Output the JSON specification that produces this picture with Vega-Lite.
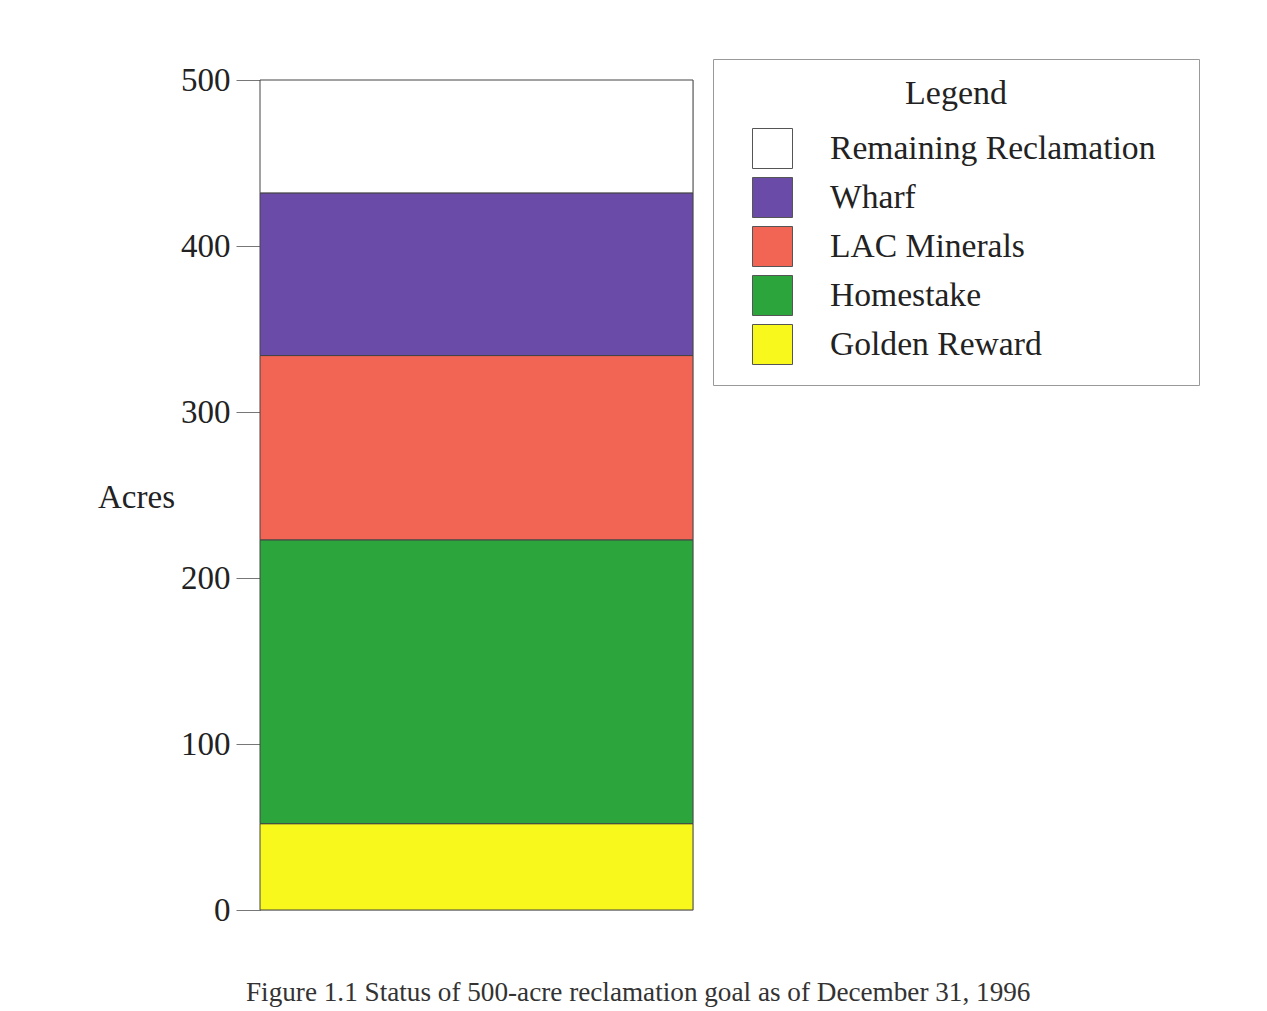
{
  "$schema": "https://vega.github.io/schema/vega-lite/v6.json",
  "width": 433,
  "height": 830,
  "autosize": "none",
  "padding": {"left": 260, "top": 80, "right": 574, "bottom": 101},
  "background": "white",
  "data": {"values": [
    {"source": "Golden Reward", "acres": 52, "rank": 1},
    {"source": "Homestake", "acres": 171, "rank": 2},
    {"source": "LAC Minerals", "acres": 111, "rank": 3},
    {"source": "Wharf", "acres": 98, "rank": 4},
    {"source": "Remaining Reclamation", "acres": 68, "rank": 5}
  ]},
  "title": {
    "text": "Figure 1.1 Status of 500-acre reclamation goal as of December 31, 1996",
    "orient": "bottom",
    "anchor": "start",
    "frame": "group",
    "dx": -14,
    "offset": 53,
    "font": "Liberation Serif",
    "fontSize": 27.2,
    "fontWeight": "normal",
    "color": "#333333"
  },
  "mark": {"type": "bar", "stroke": "#444444", "strokeWidth": 1},
  "encoding": {
    "x": {"datum": "1996", "type": "nominal", "scale": {"paddingInner": 0, "paddingOuter": 0}, "axis": null},
    "y": {
      "field": "acres",
      "type": "quantitative",
      "stack": "zero",
      "scale": {"domain": [0, 500], "nice": false},
      "axis": {
        "values": [0, 100, 200, 300, 400, 500],
        "grid": false,
        "labelFont": "Liberation Serif",
        "labelFontSize": 33,
        "labelColor": "#222222",
        "labelPadding": 6,
        "tickColor": "#777777",
        "tickSize": 24,
        "domainColor": "#777777",
        "title": "Acres",
        "titleFont": "Liberation Serif",
        "titleFontSize": 33,
        "titleFontWeight": "normal",
        "titleColor": "#222222",
        "titleAngle": 0,
        "titleX": -124,
        "titleY": 417,
        "titleAlign": "center",
        "titleBaseline": "middle"
      }
    },
    "color": {
      "field": "source",
      "type": "nominal",
      "scale": {
        "domain": ["Remaining Reclamation", "Wharf", "LAC Minerals", "Homestake", "Golden Reward"],
        "range": ["#ffffff", "#6a4ba8", "#f26454", "#2ca53d", "#f8f81c"]
      },
      "legend": {
        "title": "Legend",
        "orient": "none",
        "legendX": 453,
        "legendY": -21,
        "padding": 18,
        "strokeColor": "#999999",
        "fillColor": "#ffffff",
        "titleAnchor": "middle",
        "titleFont": "Liberation Serif",
        "titleFontSize": 34,
        "titleFontWeight": "normal",
        "titleColor": "#222222",
        "titlePadding": 17,
        "labelFont": "Liberation Serif",
        "labelFontSize": 33.6,
        "labelColor": "#222222",
        "labelLimit": 600,
        "labelOffset": 37,
        "labelExpr": "datum.label + '\u2800'",
        "symbolType": "square",
        "symbolSize": 1600,
        "symbolStrokeColor": "#555555",
        "symbolStrokeWidth": 1,
        "symbolOpacity": 1,
        "symbolOffset": 21,
        "rowPadding": 4
      }
    },
    "order": {"field": "rank", "type": "quantitative"}
  }
}
